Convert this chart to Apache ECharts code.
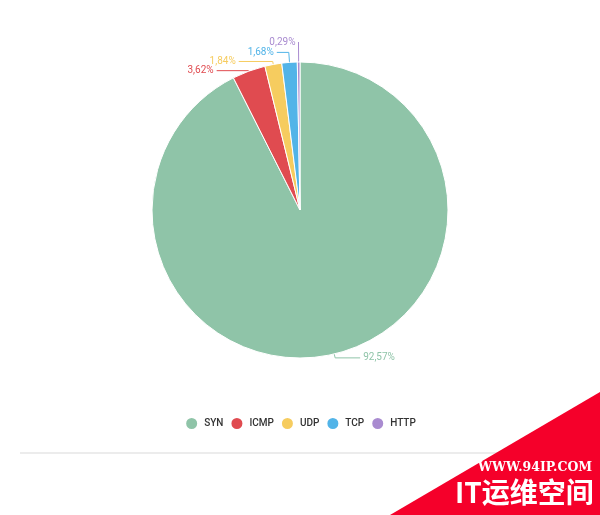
<!DOCTYPE html>
<html><head><meta charset="utf-8">
<script src="https://cdn.jsdelivr.net/npm/echarts@6/dist/echarts.min.js"></script>
<style>html,body{margin:0;padding:0;background:#fff}#c{width:600px;height:515px}</style>
</head><body><div id="c"></div>
<script>
const categories = ['SYN', 'ICMP', 'UDP', 'TCP', 'HTTP'];
const values = [92.57, 3.62, 1.84, 1.68, 0.29];
const colors = ['#8fc4a8', '#e04b50', '#f6cc5f', '#52b4e8', '#a98bd0'];

// label-line lengths per slice (style only), [first segment, second segment]
const lineLengths = { SYN: [4, 25], ICMP: [0.5, 32], UDP: [3, 34], TCP: [10, 12], HTTP: [20, 0] };

const chart = echarts.init(document.getElementById('c'));
chart.setOption({
  animation: false,
  color: colors,
  legend: {
    data: categories,
    top: 411,
    left: 'center',
    icon: 'circle',
    itemWidth: 13,
    itemHeight: 13,
    itemGap: 6,
    textStyle: { fontFamily: 'Roboto', fontSize: 10, color: '#333', fontWeight: 500, padding: [0, 0, 0, 1] }
  },
  graphic: [
    { type: 'line', shape: { x1: 20, y1: 453, x2: 600, y2: 453 }, style: { stroke: '#e6e6e6', lineWidth: 1.5 }, z: 1 },
    { type: 'polygon', shape: { points: [[390, 515], [600, 392], [600, 515]] }, style: { fill: '#f5002a' }, z: 2 },
    { type: 'text', left: 478, top: 461, style: { text: 'WWW.94IP.COM', fill: '#fff', font: 'bold 12.5px "DejaVu Serif", serif' }, z: 3 },
    { type: 'text', left: 455, top: 478, style: { text: 'IT运维空间', fill: '#fff', font: 'bold 28px "Noto Sans CJK SC", sans-serif' }, z: 3 }
  ],
  series: [{
    type: 'pie',
    center: [300, 210],
    radius: [0, 148],
    startAngle: 90,
    clockwise: true,
    avoidLabelOverlap: false,
    labelLayout: { hideOverlap: false },
    data: categories.map((n, i) => ({
      name: n,
      value: values[i],
      labelLine: { length: lineLengths[n][0], length2: lineLengths[n][1] }
    })),
    itemStyle: { borderColor: '#fff', borderWidth: 1 },
    label: {
      show: true,
      position: 'outside',
      distanceToLabelLine: 3,
      fontFamily: 'Roboto',
      fontSize: 10,
      lineHeight: 11,
      color: 'inherit',
      formatter: p => p.value.toFixed(2).replace('.', ',') + '%'
    },
    labelLine: { show: true, lineStyle: { width: 1 } },
    emphasis: { disabled: true }
  }]
});
</script></body></html>
